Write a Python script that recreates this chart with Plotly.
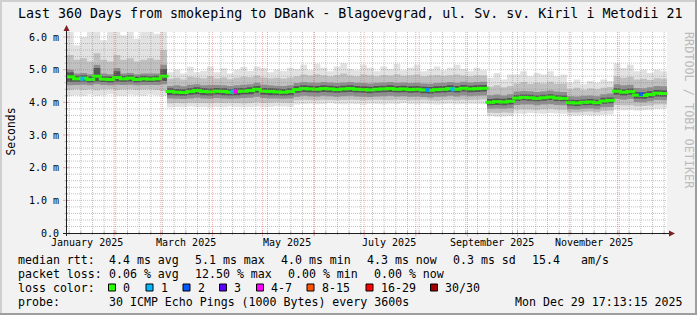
import numpy as np
import pandas as pd
import plotly.graph_objects as go

# ---------------- data ----------------
start_time = "2025-01-03 17:13:15"
end_time = "2025-12-29 17:13:15"
dates = pd.date_range(start_time, periods=91, freq="4D")
step_days = 4

median = [4.78, 4.72, 4.74, 4.70, 4.80, 4.71, 4.70, 4.76, 4.72, 4.74, 4.70, 4.72, 4.71, 4.72, 4.80,
          4.33, 4.31, 4.30, 4.33, 4.36, 4.33, 4.32, 4.34, 4.33, 4.31, 4.33, 4.34, 4.36, 4.40, 4.34, 4.33, 4.32, 4.31, 4.33,
          4.39, 4.42, 4.41, 4.40, 4.42, 4.41, 4.39, 4.41, 4.42, 4.40, 4.39, 4.38, 4.40, 4.41, 4.42, 4.40, 4.41, 4.39, 4.40, 4.38, 4.37, 4.39, 4.40, 4.42, 4.40, 4.43, 4.41, 4.42, 4.43,
          4.00, 4.02, 4.01, 4.03,
          4.13, 4.15, 4.14, 4.12, 4.14, 4.16, 4.13, 4.12,
          3.99, 3.98, 4.00, 4.01, 3.99,
          4.04, 4.06,
          4.34, 4.31, 4.33,
          4.22, 4.21, 4.24,
          4.28, 4.27, 4.28]

smoke1_hi = [6.15, 5.75, 6.0, 6.15, 6.15, 5.9, 6.15, 6.15, 6.05, 6.15, 5.95, 6.15, 6.15, 6.1, 6.15,
             4.92, 5.0, 4.88, 5.08, 4.92, 4.96, 5.1, 4.92, 5.04, 4.88, 5.0, 5.08, 4.96, 5.1, 5.04, 4.92, 5.0, 4.96, 5.06,
             5.02, 5.15, 4.98, 5.18, 5.06, 4.95, 5.1, 5.2, 5.02, 4.98, 5.15, 5.06, 4.95, 5.1, 5.02, 5.18, 4.98, 5.06, 5.15, 4.95, 5.02, 5.1, 4.98, 5.06, 5.15, 5.02, 4.95, 5.06, 4.98,
             4.75, 4.9, 4.7, 4.85,
             4.85, 4.95, 4.8, 4.9, 4.85, 4.95, 4.8, 4.85,
             4.6, 4.7, 4.55, 4.65, 4.6,
             4.7, 4.65,
             5.2, 5.05, 5.15,
             4.95, 5.0, 4.9,
             5.0, 4.95, 4.95]
smoke1_lo = [4.20, 4.22, 4.20, 4.24, 4.20, 4.22, 4.25, 4.21, 4.20, 4.23, 4.22, 4.20, 4.24, 4.22, 4.20,
             3.84, 3.86, 3.85, 3.87, 3.85, 3.86, 3.84, 3.86, 3.85, 3.87, 3.86, 3.85, 3.86, 3.87, 3.85, 3.86, 3.88, 3.87, 3.86,
             3.93, 3.95, 3.96, 3.94, 3.95, 3.97, 3.95, 3.94, 3.96, 3.95, 3.93, 3.96, 3.95, 3.94, 3.96, 3.95, 3.97, 3.95, 3.94, 3.96, 3.95, 3.93, 3.95, 3.96, 3.94, 3.95, 3.96, 3.95, 3.94,
             3.58, 3.56, 3.57, 3.58,
             3.66, 3.65, 3.67, 3.66, 3.65, 3.67, 3.66, 3.65,
             3.60, 3.59, 3.61, 3.60, 3.60,
             3.62, 3.63,
             3.78, 3.76, 3.77,
             3.75, 3.76, 3.77,
             3.80, 3.81, 3.81]
smoke2_hi = [5.45, 5.3, 5.35, 5.25, 5.5, 5.3, 5.25, 5.45, 5.3, 5.35, 5.25, 5.3, 5.35, 5.3, 5.6,
             4.72, 4.75, 4.70, 4.78, 4.76, 4.74, 4.80, 4.73, 4.76, 4.71, 4.75, 4.78, 4.77, 4.82, 4.76, 4.74, 4.75, 4.73, 4.76,
             4.80, 4.85, 4.82, 4.86, 4.83, 4.80, 4.84, 4.88, 4.82, 4.80, 4.85, 4.83, 4.80, 4.84, 4.82, 4.86, 4.81, 4.83, 4.85, 4.80, 4.82, 4.84, 4.81, 4.83, 4.85, 4.82, 4.80, 4.83, 4.82,
             4.48, 4.52, 4.46, 4.50,
             4.58, 4.62, 4.56, 4.60, 4.58, 4.63, 4.57, 4.58,
             4.40, 4.45, 4.38, 4.42, 4.40,
             4.45, 4.47,
             4.80, 4.75, 4.78,
             4.70, 4.72, 4.68,
             4.74, 4.72, 4.72]
smoke2_lo = [4.38, 4.40, 4.38, 4.40, 4.37, 4.40, 4.41, 4.38, 4.39, 4.40, 4.38, 4.39, 4.40, 4.38, 4.35,
             3.97, 3.98, 3.97, 3.99, 3.98, 3.98, 3.97, 3.99, 3.98, 3.99, 3.98, 3.97, 3.98, 4.00, 3.98, 3.99, 4.00, 3.99, 3.98,
             4.06, 4.08, 4.07, 4.06, 4.08, 4.07, 4.06, 4.07, 4.08, 4.07, 4.06, 4.07, 4.08, 4.07, 4.06, 4.08, 4.07, 4.06, 4.07, 4.08, 4.06, 4.05, 4.07, 4.08, 4.06, 4.08, 4.07, 4.08, 4.09,
             3.68, 3.67, 3.69, 3.68,
             3.78, 3.79, 3.78, 3.77, 3.79, 3.80, 3.78, 3.77,
             3.70, 3.69, 3.71, 3.72, 3.70,
             3.74, 3.75,
             3.92, 3.90, 3.91,
             3.88, 3.89, 3.90,
             3.93, 3.94, 3.94]
smoke3_hi = [5.00, 4.88, 4.90, 4.86, 5.15, 4.88, 4.86, 5.05, 4.88, 4.90, 4.86, 4.88, 4.88, 4.88, 5.15,
             4.50, 4.52, 4.49, 4.54, 4.55, 4.52, 4.53, 4.53, 4.52, 4.50, 4.52, 4.54, 4.55, 4.60, 4.54, 4.52, 4.51, 4.50, 4.52,
             4.59, 4.62, 4.61, 4.60, 4.62, 4.61, 4.59, 4.61, 4.62, 4.60, 4.59, 4.58, 4.60, 4.61, 4.62, 4.60, 4.61, 4.59, 4.60, 4.58, 4.57, 4.59, 4.60, 4.62, 4.60, 4.63, 4.61, 4.62, 4.63,
             4.22, 4.24, 4.21, 4.25,
             4.33, 4.35, 4.34, 4.32, 4.34, 4.36, 4.33, 4.32,
             4.19, 4.18, 4.20, 4.21, 4.19,
             4.25, 4.27,
             4.55, 4.52, 4.54,
             4.44, 4.43, 4.46,
             4.50, 4.49, 4.49]
smoke3_lo = [4.52, 4.53, 4.54, 4.52, 4.55, 4.53, 4.52, 4.54, 4.53, 4.54, 4.52, 4.53, 4.53, 4.53, 4.55,
             4.12, 4.11, 4.10, 4.12, 4.14, 4.12, 4.11, 4.13, 4.12, 4.11, 4.12, 4.13, 4.14, 4.17, 4.13, 4.12, 4.12, 4.11, 4.12,
             4.17, 4.20, 4.19, 4.18, 4.20, 4.19, 4.17, 4.19, 4.20, 4.18, 4.17, 4.16, 4.18, 4.19, 4.20, 4.18, 4.19, 4.17, 4.18, 4.16, 4.15, 4.17, 4.18, 4.20, 4.18, 4.21, 4.19, 4.20, 4.21,
             3.80, 3.81, 3.80, 3.82,
             3.92, 3.93, 3.93, 3.91, 3.93, 3.94, 3.92, 3.91,
             3.79, 3.78, 3.80, 3.81, 3.79,
             3.85, 3.86,
             4.10, 4.08, 4.10,
             4.01, 4.00, 4.03,
             4.07, 4.06, 4.06]
smoke4_hi = [4.92, 4.81, 4.83, 4.79, 5.05, 4.80, 4.79, 4.95, 4.81, 4.83, 4.79, 4.81, 4.80, 4.81, 5.02,
             4.43, 4.41, 4.40, 4.43, 4.46, 4.43, 4.42, 4.44, 4.43, 4.41, 4.43, 4.44, 4.46, 4.50, 4.44, 4.43, 4.42, 4.41, 4.43,
             4.49, 4.52, 4.51, 4.50, 4.52, 4.51, 4.49, 4.51, 4.52, 4.50, 4.49, 4.48, 4.50, 4.51, 4.52, 4.50, 4.51, 4.49, 4.50, 4.48, 4.47, 4.49, 4.50, 4.52, 4.50, 4.53, 4.51, 4.52, 4.53,
             4.10, 4.12, 4.11, 4.13,
             4.22, 4.24, 4.23, 4.21, 4.23, 4.25, 4.22, 4.21,
             4.08, 4.07, 4.09, 4.10, 4.08,
             4.14, 4.15,
             4.43, 4.40, 4.42,
             4.32, 4.31, 4.34,
             4.38, 4.37, 4.37]
smoke4_lo = [4.63, 4.63, 4.64, 4.61, 4.64, 4.62, 4.61, 4.64, 4.63, 4.64, 4.61, 4.63, 4.62, 4.63, 4.65,
             4.22, 4.21, 4.20, 4.23, 4.25, 4.22, 4.21, 4.24, 4.22, 4.21, 4.22, 4.24, 4.25, 4.29, 4.23, 4.22, 4.22, 4.21, 4.22,
             4.29, 4.32, 4.31, 4.30, 4.32, 4.31, 4.29, 4.31, 4.32, 4.30, 4.29, 4.28, 4.30, 4.31, 4.32, 4.30, 4.31, 4.29, 4.30, 4.28, 4.27, 4.29, 4.30, 4.32, 4.30, 4.33, 4.31, 4.32, 4.33,
             3.91, 3.92, 3.91, 3.93,
             4.04, 4.06, 4.05, 4.03, 4.05, 4.07, 4.04, 4.03,
             3.90, 3.89, 3.91, 3.92, 3.90,
             3.96, 3.97,
             4.23, 4.21, 4.23,
             4.12, 4.11, 4.14,
             4.18, 4.17, 4.17]

loss_dates = ["2025-01-13", "2025-04-13", "2025-04-15", "2025-08-08", "2025-08-23", "2025-12-14"]
loss_values = [4.72, 4.33, 4.33, 4.38, 4.40, 4.25]
loss_point_colors = ["#00b8ff", "#00b8ff", "#ff00ff", "#0090ff", "#00b8ff", "#0059ff"]

y_tick_values = [0, 1, 2, 3, 4, 5, 6]
y_tick_text = ["0.0", "1.0 m", "2.0 m", "3.0 m", "4.0 m", "5.0 m", "6.0 m"]
month_label_dates = ["2025-01-16", "2025-03-16", "2025-05-16", "2025-07-16", "2025-09-16", "2025-11-16"]
month_labels = ["January 2025", "March 2025", "May 2025", "July 2025", "September 2025", "November 2025"]

loss_labels = ["0", "1", "2", "3", "4-7", "8-15", "16-29", "30/30"]
loss_colors = ["#26ff00", "#00b8ff", "#0059ff", "#5e00ff", "#ff00ff", "#ff5500", "#ff0000", "#a10000"]

rtt_stats = ["4.4 ms avg", "5.1 ms max", "4.0 ms min", "4.3 ms now", "0.3 ms sd", "15.4", "am/s"]
loss_stats = ["0.06 % avg", "12.50 % max", "0.00 % min", "0.00 % now"]
title_text = "Last 360 Days from smokeping to DBank - Blagoevgrad, ul. Sv. sv. Kiril i Metodii 21"
probe_text = "30 ICMP Echo Pings (1000 Bytes) every 3600s"
stamp_text = "Mon Dec 29 17:13:15 2025"

for arr in [median, smoke1_hi, smoke1_lo, smoke2_hi, smoke2_lo, smoke3_hi, smoke3_lo, smoke4_hi, smoke4_lo]:
    assert len(arr) == len(dates), len(arr)

# ---------------- layout geometry ----------------
W, H = 697, 315
PL, PR, PT, PB = 67, 667, 32, 233
Y_TOP = 6.153
MONO = "DejaVu Sans Mono"


def fx(p):
    return (p - PL) / (PR - PL)


def fy(p):
    return (PB - p) / (PB - PT)


def nb(s):
    return s.replace(" ", "\u00a0")


fig = go.Figure()

band_colors = ["#e2e2e2", "#c0c0c0", "#8e8e8e", "#555555"]
bands = [(smoke1_lo, smoke1_hi), (smoke2_lo, smoke2_hi), (smoke3_lo, smoke3_hi), (smoke4_lo, smoke4_hi)]
for (lo, hi), col in zip(bands, band_colors):
    fig.add_trace(go.Scatter(x=dates, y=lo, mode="lines", line=dict(width=0, shape="hv"),
                             hoverinfo="skip", showlegend=False))
    fig.add_trace(go.Scatter(x=dates, y=hi, mode="lines", line=dict(width=0, shape="hv"),
                             fill="tonexty", fillcolor=col, hoverinfo="skip", showlegend=False))

# median drawn as one short horizontal dash per consolidation step (like smokeping)
step_centres = dates[:-1] + pd.Timedelta(days=step_days / 2)
fig.add_trace(go.Scatter(x=step_centres, y=median[:-1], mode="markers",
                         marker=dict(symbol="line-ew", size=7, line=dict(color="#26ff00", width=3)),
                         showlegend=False))
fig.add_trace(go.Scatter(x=loss_dates, y=loss_values, mode="markers",
                         marker=dict(symbol="square", size=4, color=loss_point_colors, line=dict(width=0)),
                         showlegend=False))

shapes = []
GRID = "rgba(143,143,143,0.55)"
MGRID = "rgba(222,79,79,0.45)"
# horizontal grid
for v in np.round(np.arange(0.2, 6.1, 0.2), 1):
    if abs(v - round(v)) < 1e-6:
        continue
    shapes.append(dict(type="line", xref="paper", yref="y", x0=0, x1=1, y0=v, y1=v,
                       line=dict(color=GRID, width=1, dash="1px,1px"), layer="above"))
    shapes.append(dict(type="line", xref="paper", yref="y", x0=fx(64.5), x1=fx(68), y0=v, y1=v,
                       line=dict(color=GRID, width=1), layer="above"))
for v in y_tick_values[1:]:
    shapes.append(dict(type="line", xref="paper", yref="y", x0=0, x1=1, y0=v, y1=v,
                       line=dict(color=MGRID, width=1, dash="1px,1px"), layer="above"))
    shapes.append(dict(type="line", xref="paper", yref="y", x0=fx(63), x1=fx(69), y0=v, y1=v,
                       line=dict(color=MGRID, width=1), layer="above"))
# vertical grid
weeks = pd.date_range("2025-01-05", "2025-12-28", freq="7D")
for d in weeks:
    shapes.append(dict(type="line", xref="x", yref="paper", x0=d, x1=d, y0=0, y1=1,
                       line=dict(color=GRID, width=1, dash="1px,1px"), layer="above"))
    shapes.append(dict(type="line", xref="x", yref="paper", x0=d, x1=d, y0=fy(235), y1=fy(231),
                       line=dict(color=GRID, width=1), layer="above"))
months = pd.date_range("2025-02-01", "2025-12-01", freq="MS")
for d in months:
    shapes.append(dict(type="line", xref="x", yref="paper", x0=d, x1=d, y0=0, y1=1,
                       line=dict(color=MGRID, width=1, dash="1px,1px"), layer="above"))
    shapes.append(dict(type="line", xref="x", yref="paper", x0=d, x1=d, y0=fy(236.5), y1=fy(230),
                       line=dict(color=MGRID, width=1), layer="above"))
# axes
AXIS = "#1f1f1f"
ARROW = "#801f1f"
shapes.append(dict(type="line", xref="paper", yref="paper", x0=fx(66.5), x1=fx(66.5), y0=fy(236), y1=fy(30),
                   line=dict(color=AXIS, width=1), layer="above"))
shapes.append(dict(type="line", xref="paper", yref="paper", x0=fx(63), x1=fx(670), y0=fy(233.5), y1=fy(233.5),
                   line=dict(color=AXIS, width=1), layer="above"))
shapes.append(dict(type="path", xref="paper", yref="paper",
                   path=f"M {fx(66.5)},{fy(25)} L {fx(63.5)},{fy(31)} L {fx(69.5)},{fy(31)} Z",
                   fillcolor=ARROW, line=dict(width=0), layer="above"))
shapes.append(dict(type="path", xref="paper", yref="paper",
                   path=f"M {fx(675)},{fy(233.5)} L {fx(669)},{fy(230.5)} L {fx(669)},{fy(236.5)} Z",
                   fillcolor=ARROW, line=dict(width=0), layer="above"))
# frame shading
shapes += [
    dict(type="rect", xref="paper", yref="paper", x0=fx(0), x1=fx(W), y0=fy(0), y1=fy(2),
         fillcolor="#cfcfcf", line=dict(width=0), layer="below"),
    dict(type="rect", xref="paper", yref="paper", x0=fx(0), x1=fx(2), y0=fy(0), y1=fy(H),
         fillcolor="#cfcfcf", line=dict(width=0), layer="below"),
    dict(type="rect", xref="paper", yref="paper", x0=fx(0), x1=fx(W), y0=fy(H - 2), y1=fy(H),
         fillcolor="#9e9e9e", line=dict(width=0), layer="below"),
    dict(type="rect", xref="paper", yref="paper", x0=fx(W - 2), x1=fx(W), y0=fy(0), y1=fy(H),
         fillcolor="#9e9e9e", line=dict(width=0), layer="below"),
]
# loss colour boxes
box_x = [108, 145.5, 182.5, 219, 256, 306.5, 365.5, 430]
label_x = [121, 158.5, 195.5, 232, 269, 319.5, 378.5, 443]
for bx, col in zip(box_x, loss_colors):
    shapes.append(dict(type="rect", xref="paper", yref="paper", x0=fx(bx + 0.5), x1=fx(bx + 7.5),
                       y0=fy(291), y1=fy(284), fillcolor=col, line=dict(color="#000000", width=1)))

annotations = []


def text(x, y, s, size=11.6, anchor="left", color="#000000", angle=0, xref="paper"):
    annotations.append(dict(xref=xref, yref="paper", x=(fx(x) if xref == "paper" else x), y=fy(y),
                            text=nb(s), showarrow=False, xanchor=anchor, yanchor="middle",
                            textangle=angle, font=dict(family=MONO, size=size, color=color)))


text(16, 13, title_text, size=13.3)
text(10.5, 132, "Seconds", size=11.4, anchor="center", angle=-90)
text(689, 110, "RRDTOOL / TOBI OETIKER", size=11.8, anchor="center", color="#bcbcbc", angle=90)
for d, lab in zip(month_label_dates, month_labels):
    text(d, 242.5, lab, size=10, anchor="center", xref="x")

ROW = [259.5, 273.5, 287.5, 301.5]
text(16, ROW[0], "median rtt:")
for xp, s in zip([107, 193.3, 279.3, 365.3, 451.3, 530.3, 579.3], rtt_stats):
    text(xp, ROW[0], s)
text(16, ROW[1], "packet loss:")
for xp, s in zip([107, 193.3, 286.3, 372.3], loss_stats):
    text(xp, ROW[1], s)
text(16, ROW[2], "loss color:")
for xp, s in zip(label_x, loss_labels):
    text(xp, ROW[2], s)
text(16, ROW[3], "probe:")
text(107, ROW[3], probe_text)
text(512.7, ROW[3], stamp_text)

fig.update_layout(
    width=W, height=H,
    margin=dict(l=PL, r=W - PR, t=PT, b=H - PB, pad=0),
    paper_bgcolor="#f2f2f2", plot_bgcolor="#ffffff",
    showlegend=False,
    xaxis=dict(type="date", range=[start_time, end_time], showgrid=False, zeroline=False,
               showline=False, ticks="", showticklabels=False, fixedrange=True),
    yaxis=dict(range=[0, Y_TOP], tickvals=y_tick_values, ticktext=y_tick_text, showgrid=False,
               zeroline=False, showline=False, ticks="", ticklabelstandoff=7,
               tickfont=dict(family=MONO, size=10, color="#000000"), fixedrange=True),
    shapes=shapes, annotations=annotations,
)

fig.write_html("out.html")
